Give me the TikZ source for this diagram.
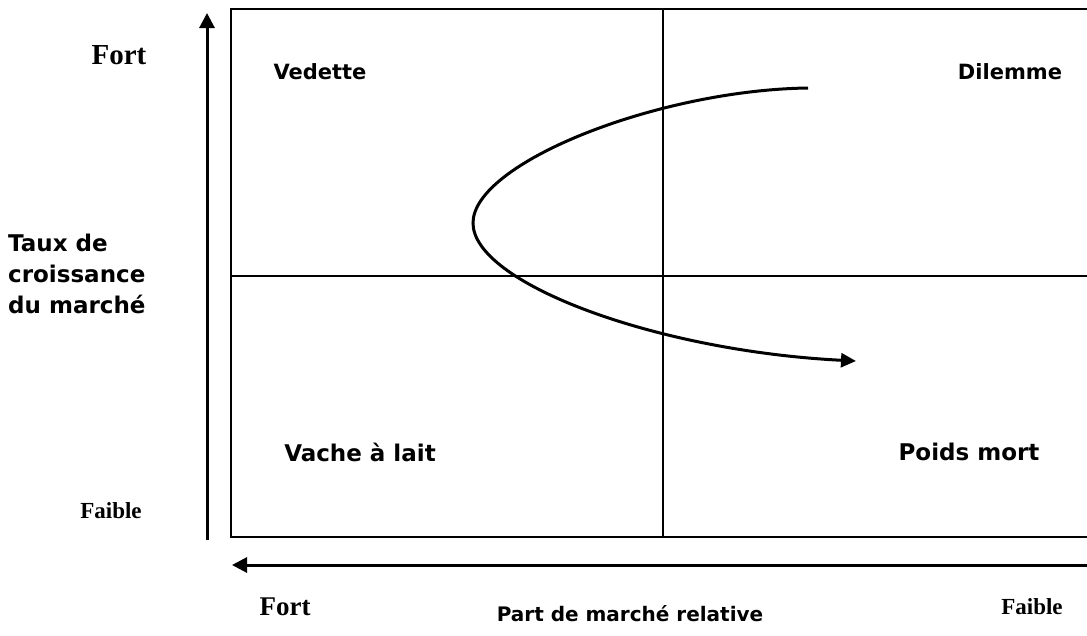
\documentclass[tikz,border=0pt]{standalone}
\usepackage{fontspec}
\setmainfont{Liberation Serif}
\newfontfamily\quadfont{DejaVu Sans}
\usepackage{tikz}
\usetikzlibrary{arrows.meta,positioning}

\begin{document}
\begin{tikzpicture}[
  x=1pt, y=-1pt,
  % Quadrant / axis titles (bold sans)
  qlab/.style = {inner sep=0pt, font=\quadfont\bfseries\fontsize{21}{31}\selectfont},
  % Fort / Faible ends of the axes (bold serif)
  elab/.style = {inner sep=0pt, font=\bfseries\fontsize{23}{26}\selectfont},
  % Frame and split lines
  frm/.style  = {line width=2pt, color=black},
  % Axis arrows
  axis/.style = {-{Triangle[length=15pt,width=15pt]}, line width=3pt},
  % Product trajectory
  traj/.style = {-{Triangle[length=15pt,width=14pt]}, line width=3pt}
]
\useasboundingbox (0,0) rectangle (1087,635);

% Frame corners (right side runs off the page)
\coordinate (boxNW) at (231,  9);
\coordinate (boxNE) at (1087, 9);
\coordinate (boxSW) at (231,537);
\coordinate (boxSE) at (1087,537);
\coordinate (midN)  at (663,  9);
\coordinate (midS)  at (663,537);
\coordinate (midW)  at (231,276);
\coordinate (midE)  at (1087,276);

\draw[frm] (boxNE) -- (boxNW) -- (boxSW) -- (boxSE);
\draw[frm] (midN) -- (midS);
\draw[frm] (midW) -- (midE);

% Axes
\coordinate (yFoot) at (207,540);
\coordinate (yTop)  at (207, 13);
\coordinate (xRight) at (1087,565);
\coordinate (xLeft)  at (232,565);
\draw[axis] (yFoot) -- (yTop);
\draw[axis] (xRight) -- (xLeft);

% Quadrant names
\node[qlab] (vedette) at (320, 72) {Vedette};
\node[qlab] (dilemme) at (1010,72) {Dilemme};
\node[qlab, font=\quadfont\bfseries\fontsize{23}{31}\selectfont] (vache) at (360,452) {Vache à lait};
\node[qlab, font=\quadfont\bfseries\fontsize{23}{31}\selectfont] (poids) at (969,452) {Poids mort};

% Axis titles
\node[qlab, align=left, anchor=west, font=\quadfont\bfseries\fontsize{23}{31}\selectfont] (taux) at (8,274)
  {Taux de\\croissance\\du marché};
\node[qlab, font=\quadfont\bfseries\fontsize{20}{31}\selectfont] (part) at (630,614) {Part de marché relative};

% Axis ends
\node[elab, font=\bfseries\fontsize{29}{32}\selectfont] (fortY) at (119,55) {Fort};
\node[elab] (faibleY) at (111,511) {Faible};
\node[elab, font=\bfseries\fontsize{27}{30}\selectfont] (fortX) at (285,607) {Fort};
\node[elab] (faibleX) at (1032,607) {Faible};

% Trajectory: Dilemme -> Vedette -> Vache a lait
\coordinate (cStart) at (808, 88);
\coordinate (cBend)  at (473,223);
\coordinate (cEnd)   at (856,361);
\draw[traj] (cStart) .. controls (658,90) and (473,163) .. (cBend)
            .. controls (473,283) and (656,351) .. (cEnd);

\end{tikzpicture}
\end{document}
